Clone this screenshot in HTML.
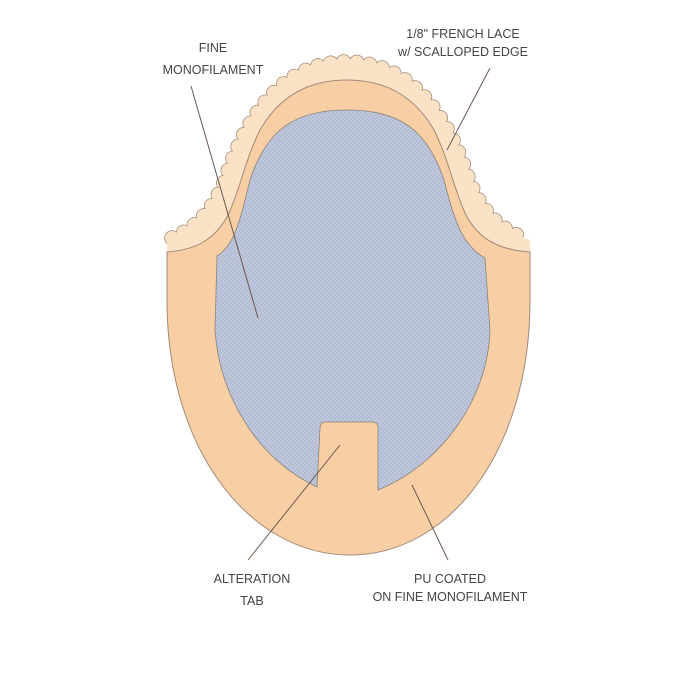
<!DOCTYPE html>
<html><head><style>
html,body{margin:0;padding:0;background:#fff;}
svg{display:block}
text{font-family:"Liberation Sans",sans-serif;font-size:12.5px;fill:#444;text-anchor:middle;}
</style></head><body>
<svg width="700" height="700" viewBox="0 0 700 700" xmlns="http://www.w3.org/2000/svg">
<defs>
<pattern id="mesh" width="4" height="4" patternUnits="userSpaceOnUse">
<rect width="4" height="4" fill="#bfc7dc"/>
<rect width="2" height="2" fill="#b3bcd3"/>
<rect x="2" y="2" width="2" height="2" fill="#b3bcd3"/>
</pattern>
</defs>
<path d="M172,238 C200,227 215,205 225,180 C245,120 280,62 347,62 C414,62 449,120 469,180 C479,205 494,227 524,238" fill="none" stroke="#a08a78" stroke-width="15.5" stroke-dasharray="0 13" stroke-linecap="round"/>
<path d="M172,238 C200,227 215,205 225,180 C245,120 280,62 347,62 C414,62 449,120 469,180 C479,205 494,227 524,238" fill="none" stroke="#fbe2c6" stroke-width="14" stroke-dasharray="0 13" stroke-linecap="round"/>
<path d="M167,252 L167,240 C200,229 215,207 225,182 C245,122 280,64 347,64 C414,64 449,122 469,182 C479,207 494,229 530,240 L530,252 Z" fill="#fbe2c6"/>
<path d="M167,252 C195,250 215,240 228,215 C240,190 245,160 260,130 C280,95 310,80 347,80 C384,80 414,95 434,130 C449,160 454,190 466,215 C479,240 500,250 530,252 L530,300 C530,450 450,555 350,555 C250,555 167,450 167,300 Z" fill="#f8cea4" stroke="#a08a78" stroke-width="1"/>
<path d="M317,487 C260,460 220,400 215,330 L217,256 C235,245 240,220 250,180 C268,125 300,110 347,110 C394,110 426,125 444,180 C454,220 462,245 485,258 L490,330 C488,400 440,465 378,490 L378,428 Q378,422 372,422 L326,422 Q320,422 320,428 Z" fill="url(#mesh)" stroke="#8a8478" stroke-width="0.8"/>
<g stroke="#6a5a50" stroke-width="1" fill="none">
<line x1="191" y1="86" x2="258" y2="318"/>
<line x1="490" y1="68" x2="447" y2="150"/>
<line x1="340" y1="445" x2="248" y2="560"/>
<line x1="412" y1="485" x2="448" y2="560"/>
</g>
<text x="213" y="52">FINE</text>
<text x="213" y="74">MONOFILAMENT</text>
<text x="463" y="38">1/8" FRENCH LACE</text>
<text x="463" y="56">w/ SCALLOPED EDGE</text>
<text x="252" y="583">ALTERATION</text>
<text x="252" y="605">TAB</text>
<text x="450" y="583">PU COATED</text>
<text x="450" y="601">ON FINE MONOFILAMENT</text>
</svg>
</body></html>
